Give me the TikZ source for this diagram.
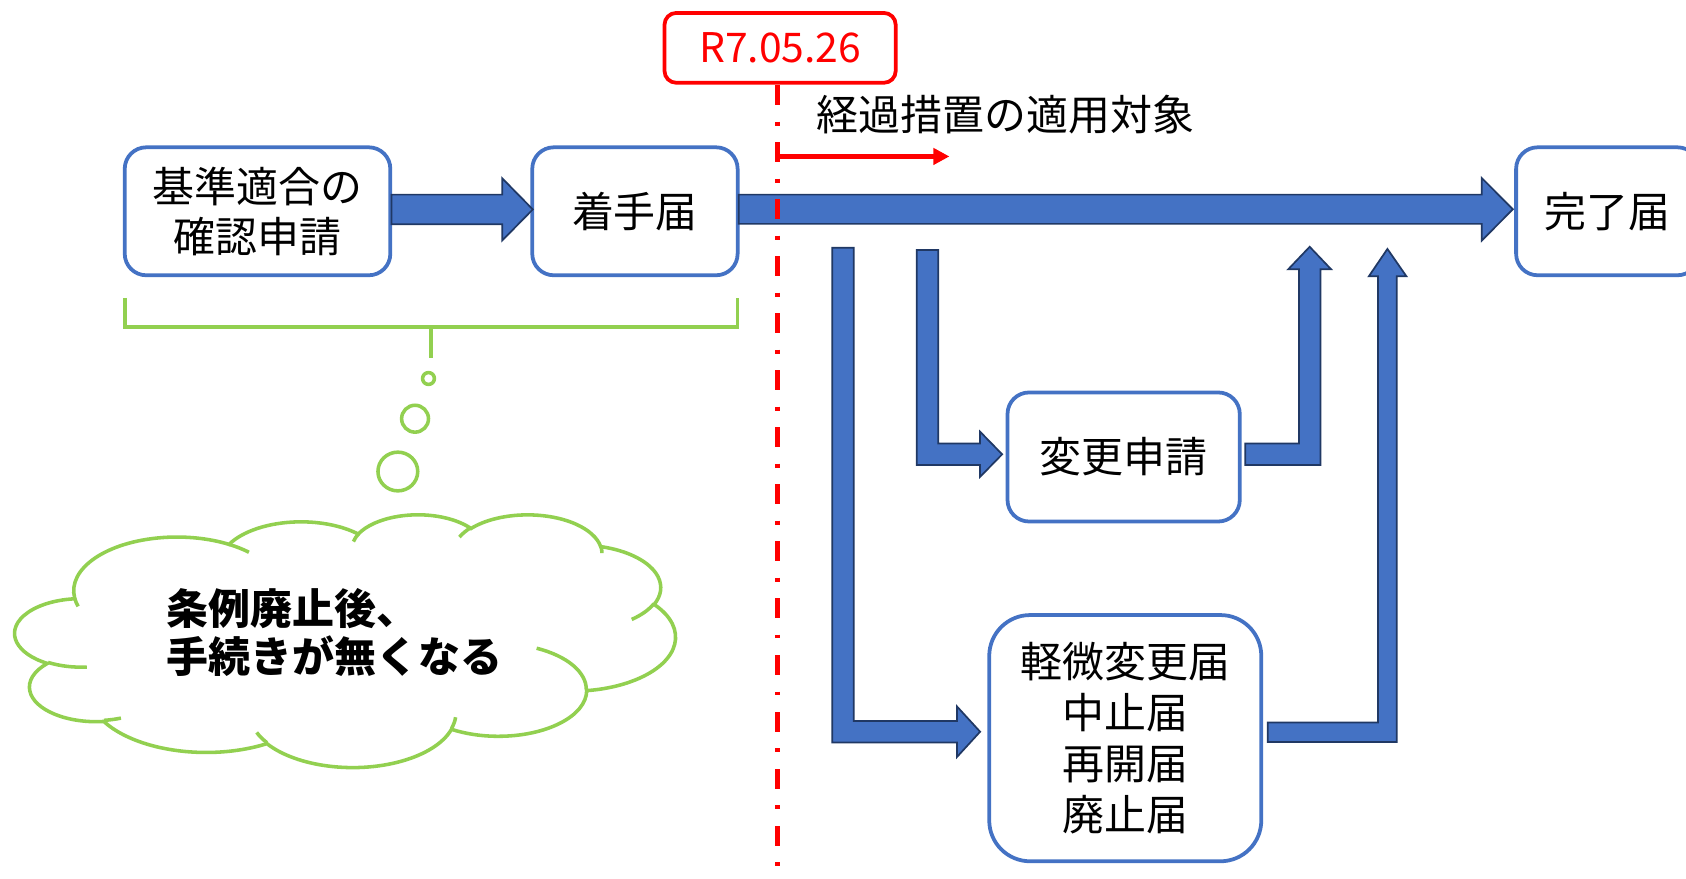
\documentclass[tikz,border=0pt]{standalone}
\usepackage{fontspec}
\setmainfont{Noto Sans CJK JP}
\usetikzlibrary{arrows.meta,calc}
\definecolor{boxblue}{HTML}{4472C4}
\definecolor{arrowline}{HTML}{203864}
\definecolor{leaf}{HTML}{92D050}
\definecolor{pptred}{HTML}{FF0000}
\begin{document}
\begin{tikzpicture}[x=1pt,y=-1pt,
  box/.style={draw=boxblue, line width=3.5pt, fill=white, rounded corners=20pt,
    inner sep=0pt, align=center, font=\fontsize{39pt}{46pt}\selectfont},
  barrow/.style={fill=boxblue, draw=arrowline, line width=1.6pt, line join=miter},
  leafline/.style={draw=leaf, line width=3.3pt},
  datebox/.style={draw=pptred, line width=3.5pt, rounded corners=11pt, fill=white,
    text=pptred, inner sep=0pt, font=\fontsize{38pt}{44pt}\selectfont},
  plain/.style={inner sep=0pt, font=\fontsize{39pt}{46pt}\selectfont}
]
\useasboundingbox[fill=white] (0,0) rectangle (1568,817);

% boxes
\node[box, minimum width=247pt, minimum height=119pt] (b1) at (239.5,196.5) {基準適合の\\確認申請};
\node[box, minimum width=191pt, minimum height=119pt] (b2) at (590.5,196.5) {着手届};
\node[box, minimum width=170pt, minimum height=119pt] (b3) at (1495,196.5) {完了届};
\node[box, minimum width=216pt, minimum height=120pt] (b4) at (1045,425) {変更申請};
\node[box, minimum width=253pt, minimum height=229pt, rounded corners=38pt,
  font=\fontsize{39pt}{47.5pt}\selectfont] (b5) at (1046.5,686.5) {軽微変更届\\中止届\\再開届\\廃止届};

% block arrows
\draw[barrow] (364,181) -- (467,181) -- (467,165.75) -- (495.5,194.75) -- (467,223.75) -- (467,208.5) -- (364,208.5) -- cycle;
\draw[barrow] (687,181) -- (1378,181) -- (1378,165.5) -- (1407,194.6) -- (1378,223.8) -- (1378,208.2) -- (687,208.2) -- cycle;
% elbow to b4
\draw[barrow] (852.5,232.5) -- (872.5,232.5) -- (872.5,412.5) -- (911.5,412.5) -- (911.5,401.5) -- (932,422.5) -- (911.5,443.5) -- (911.5,432.5) -- (852.5,432.5) -- cycle;
% elbow to b5
\draw[barrow] (774,230.5) -- (794,230.5) -- (794,670.5) -- (890,670.5) -- (890,657) -- (911.5,680.5) -- (890,704) -- (890,690.5) -- (774,690.5) -- cycle;
% up from b4
\draw[barrow] (1158,412.5) -- (1208,412.5) -- (1208,250.5) -- (1198,250.5) -- (1218,229.5) -- (1238,250.5) -- (1228,250.5) -- (1228,432.5) -- (1158,432.5) -- cycle;
% up from b5
\draw[barrow] (1179,672) -- (1281.5,672) -- (1281.5,257) -- (1273,257) -- (1290.3,231.5) -- (1308,257) -- (1299,257) -- (1299,690) -- (1179,690) -- cycle;

% green bracket
\coordinate (brl) at (116,277);
\coordinate (brr) at (686,277);
\coordinate (brm) at (401,304);
\coordinate (brs) at (401,333);
\draw[leafline, line join=miter] (brl) -- (116,304) -- (686,304) -- (brr);
\draw[leafline] (brm) -- (brs);
\draw[leafline, fill=white] (398.5,352) circle[radius=5.5];
\draw[leafline, fill=white] (386,389.4) circle[radius=12.5];
\draw[leafline, fill=white] (370,438.5) circle[x radius=18.5, y radius=18];

% cloud (Office cloud geometry)
\begin{scope}[x=1.4213pt, y=-0.54398pt]
\draw[leafline, fill=white] (48.85,1022.41)
 arc[start angle=-187.75, end angle=-59.64, x radius=67.53, y radius=91.90]
 arc[start angle=-152.03, end angle=-45.42, x radius=53.33, y radius=72.67]
 arc[start angle=-153.49, end angle=-37.32, x radius=43.65, y radius=59.45]
 arc[start angle=-139.71, end angle=-10.21, x radius=48.57, y radius=65.95]
 arc[start angle=-74.77, end angle=23.21, x radius=53.33, y radius=72.73]
 arc[start angle=-37.52, end angle=81.86, x radius=67.75, y radius=92.20]
 arc[start angle=0.46, end angle=121.98, x radius=57.85, y radius=78.67]
 arc[start angle=16.84, end angle=146.23, x radius=67.52, y radius=92.15]
 arc[start angle=58.99, end angle=150.20, x radius=77.20, y radius=105.43]
 arc[start angle=-276.69, end angle=-136.90, x radius=43.60, y radius=59.18]
 arc[start angle=-239.65, end angle=-95.89, x radius=43.45, y radius=59.45]
 -- cycle;
\draw[leafline]
 (56.78,1140.48) arc[start angle=85.55, end angle=120.35, x radius=43.45, y radius=59.45]
 (79.13,1227.70) arc[start angle=68.24, end angle=83.31, x radius=43.60, y radius=59.18]
 (174.63,1269.61) arc[start angle=146.23, end angle=158.47, x radius=67.52, y radius=92.15]
 (298.12,1226.22) arc[start angle=4.74, end angle=16.84, x radius=67.52, y radius=92.15]
 (351.14,1108.25) arc[start angle=-64.03, end angle=0.46, x radius=57.85, y radius=78.67]
 (427.83,1032.25) arc[start angle=23.21, end angle=49.64, x radius=53.33, y radius=72.73]
 (393.09,932.97) arc[start angle=-10.21, end angle=0.82, x radius=48.57, y radius=65.95]
 (300.63,918.23) arc[start angle=-156.29, end angle=-139.71, x radius=48.57, y radius=65.95]
 (231.26,925.91) arc[start angle=-167.73, end angle=-153.49, x radius=43.65, y radius=59.45]
 (149.85,930.63) arc[start angle=-59.64, end angle=-45.70, x radius=67.53, y radius=91.90]
 (51.12,1036.60) arc[start angle=163.20, end angle=172.25, x radius=67.53, y radius=91.90];
\end{scope}
\node[plain, anchor=west, align=left, font=\fontsize{39pt}{45pt}\selectfont\bfseries] (ct) at (155,588) {条例廃止後、\\手続きが無くなる};

% date marker
\node[datebox, minimum width=215pt, minimum height=65pt] (date) at (725.5,44.5) {R7.05.26};
\node[plain] (kt) at (935,107) {経過措置の適用対象};
\coordinate (dtop) at (723,79.5);
\coordinate (dbot) at (723,817);
\coordinate (ra0) at (721,145.5);
\coordinate (ra1) at (883,145.5);
\draw[pptred, line width=5pt, dash pattern=on 18.6pt off 15pt on 3.7pt off 15.7pt] (dtop) -- (dbot);
\draw[pptred, line width=4pt, -{Triangle[length=15pt,width=15pt]}] (ra0) -- (ra1);
\end{tikzpicture}
\end{document}
